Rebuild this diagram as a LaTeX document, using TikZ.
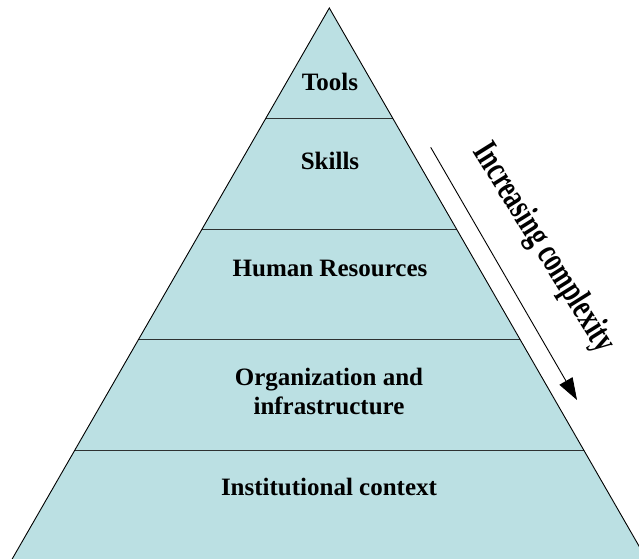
\documentclass[tikz,border=0pt]{standalone}
\usepackage{fontspec}
\usepackage{graphicx}
\setmainfont{Liberation Serif}
\usetikzlibrary{arrows.meta}
\definecolor{layerfill}{RGB}{187,224,227}
\definecolor{layerline}{RGB}{45,50,50}
\tikzset{
  layerlabel/.style={font=\bfseries\fontsize{25}{29}\selectfont, align=center, inner sep=0pt},
  sidelabel/.style={font=\bfseries\fontsize{26}{28}\selectfont, inner sep=0pt},
  pyramidedge/.style={draw=black, line width=0.9pt, line join=miter},
  layersep/.style={draw=layerline, line width=1.3pt},
  trend/.style={draw=black, line width=0.9pt, -{Triangle[length=22pt,width=15pt]}}
}
\begin{document}
\begin{tikzpicture}[x=1pt,y=-1pt]
  \useasboundingbox (0,0) rectangle (639,558);
  \clip (0,0) rectangle (639,558);
  % pyramid body
  \coordinate (apex) at (329.3,8);
  \coordinate (baseL) at (11,561);
  \coordinate (baseR) at (647.6,561);
  \fill[layerfill] (apex) -- (baseR) -- (baseL) -- cycle;
  % layer dividers
  \foreach \yy in {118.5,229.3,339.5,450.5}
    \draw[layersep] ({329.3-0.5755*(\yy-8)},\yy) -- ({329.3+0.5755*(\yy-8)},\yy);
  \draw[pyramidedge] (baseL) -- (apex) -- (baseR);
  % layer labels
  \node[layerlabel] (tools) at (330,82) {Tools};
  \node[layerlabel] (skills) at (330,161) {Skills};
  \node[layerlabel] (hr) at (330,268) {Human Resources};
  \node[layerlabel] (org) at (329,391) {Organization and\\infrastructure};
  \node[layerlabel] (inst) at (329,487) {Institutional context};
  % complexity arrow with its tall, narrow caption
  \coordinate (trendstart) at (430.7,147.3);
  \coordinate (trendend) at (577,400);
  \draw[trend] (trendstart) -- (trendend);
  \node[sidelabel, rotate=-58] (trendlabel) at (543,248)
    {\scalebox{0.98}[1.4]{Increasing complexity}};
\end{tikzpicture}
\end{document}
